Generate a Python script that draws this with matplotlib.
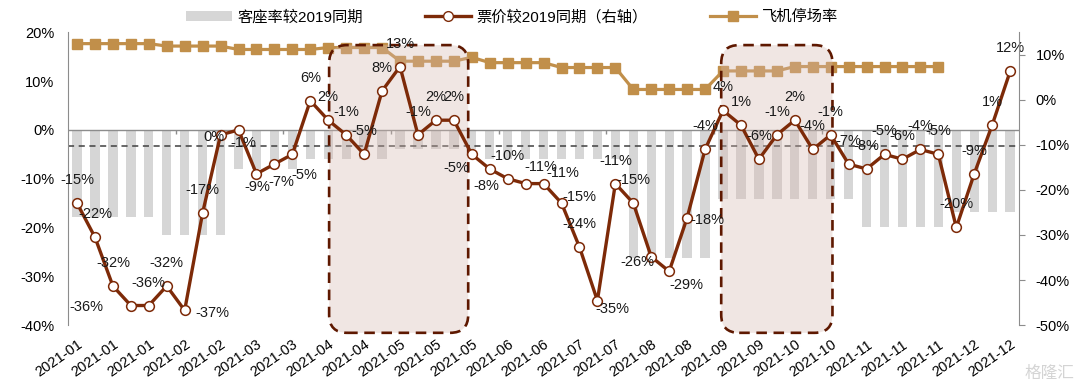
"""Ticket price / load factor / parked aircraft, weekly 2021"""
import numpy as np
import matplotlib.pyplot as plt
from matplotlib.patches import FancyBboxPatch, Patch
from matplotlib.lines import Line2D
from matplotlib.transforms import IdentityTransform

plt.rcParams['font.family'] = ['Liberation Sans', 'Noto Sans CJK SC']

# one label every second week
tick_labels = ['2021-01', '2021-01', '2021-01', '2021-02', '2021-02', '2021-03', '2021-03',
               '2021-04', '2021-04', '2021-05', '2021-05', '2021-05', '2021-06', '2021-06',
               '2021-07', '2021-07', '2021-08', '2021-08', '2021-09', '2021-09', '2021-10',
               '2021-10', '2021-11', '2021-11', '2021-11', '2021-12', '2021-12']

# 客座率较2019同期 (%)
load_factor = [-17.8, -17.8, -17.8, -17.8, -17.8, -21.5, -21.5, -21.5, -21.5, -8, -8, -8, -8,
               -6, -6, -6, -6, -6, -4, -4, -4, -4, -4, -6, -6, -6, -6, -6, -6, -6, -6,
               -26.2, -26.2, -26.2, -26.2, -26.2, -14.2, -14.2, -14.2, -14.2, -14.2, -14.2,
               -14.2, -14.2, -19.8, -19.8, -19.8, -19.8, -19.8, -16.8, -16.8, -16.8, -16.8]

# 票价较2019同期 (%)
price = [-15, -22, -32, -36, -36, -32, -37, -17, -1, 0,
         -9, -7, -5, 6, 2, -1, -5, 8, 13, -1,
         2, 2, -5, -8, -10, -11, -11, -15, -24, -35,
         -11, -15, -26, -29, -18, -4, 4, 1, -6, -1,
         2, -4, -1, -7, -8, -5, -6, -4, -5, -20,
         -9, 1, 12]

# 飞机停场率 (plotted on the same scale as the chart)
parking = [17.7, 17.7, 17.7, 17.7, 17.7, 17.2, 17.2, 17.2, 17.2, 16.5, 16.5, 16.5, 16.5, 16.5,
           16.9, 16.9, 16.9, 16.9, 14.1, 14.1, 14.1, 14.1, 14.9, 13.8, 13.8, 13.8, 13.8,
           12.8, 12.8, 12.8, 12.8, 8.3, 8.3, 8.3, 8.3, 8.3, 12.1, 12.1, 12.1, 12.1,
           13.0, 13.0, 13.0, 13.0, 13.0, 13.0, 13.0, 13.0, 13.0, np.nan, np.nan, np.nan, np.nan]

avg_line = -3.3

# label offsets in pixels (default: straight above the marker)
label_offsets = {3: (-44, -1), 6: (28, -3), 8: (23, -8), 9: (-25, -7), 10: (1, -13),
                 11: (7, -18), 12: (12, -21), 22: (-15, -14), 23: (-3, -17), 25: (15, 17),
                 26: (19, 11), 27: (18, 6), 29: (15, -8), 32: (-14, -5), 33: (17, -14),
                 34: (20, -2)}

# highlighted periods (week index range)
highlights = [(14.05, 21.8), (35.9, 42.1)]

bar_color = '#d6d6d6'
price_color = '#7d2a08'
park_color = '#c18f4a'
box_edge = '#5e1800'

fig = plt.figure(figsize=(10.8, 3.85), dpi=100)
ax = fig.add_axes([0.063, 0.1558, 0.8806, 0.76])
x = np.arange(len(price))

ax.bar(x, load_factor, width=0.52, color=bar_color, zorder=1)
ax.axhline(0, color='#8c8c8c', linewidth=1.0, zorder=2)
ax.axhline(avg_line, color='#404040', linestyle=(0, (4, 3)), linewidth=1.1, zorder=2)
ax.vlines(np.arange(5.5, len(price), 6), -0.9, 0, color='#8c8c8c', linewidth=1.0, zorder=2)

ax.plot(x, parking, color=park_color, linewidth=2.3, marker='s', markersize=7.5, zorder=3)
ax.plot(x, price, color=price_color, linewidth=2.4, marker='o', markersize=7,
        markerfacecolor='white', markeredgecolor=price_color, markeredgewidth=1.1, zorder=5)

for i, v in enumerate(price):
    dx, dy = label_offsets.get(i, (0, 23))
    ax.annotate(f'{v:.0f}%', (i, v), xytext=(dx, dy), textcoords='offset pixels',
                ha='center', va='center', fontsize=10.5, color='#1a1a1a', zorder=6)

ax.set_xlim(-0.5, len(price) - 0.5)
ax.set_ylim(-40, 20)
ax.set_yticks(np.arange(-40, 21, 10))
ax.set_yticklabels([f'{t}%' for t in range(-40, 21, 10)])
ax.tick_params(axis='y', length=0, pad=10, labelsize=10.5)
ax.set_xticks(np.arange(0, len(price), 2))
ax.set_xticklabels(tick_labels, rotation=35, ha='right', rotation_mode='anchor')
ax.tick_params(axis='x', length=0, pad=9, labelsize=10.5)
for s in ['top', 'right', 'bottom']:
    ax.spines[s].set_visible(False)
ax.spines['left'].set_color('#8c8c8c')

ax2 = ax.twinx()
ax2.set_ylim(-50, 15)
ax2.set_yticks(np.arange(-50, 11, 10))
ax2.set_yticklabels([f'{t}%' for t in range(-50, 11, 10)])
ax2.tick_params(axis='y', length=4, color='#8c8c8c', pad=8, labelsize=10.5)
for s in ['top', 'left', 'bottom']:
    ax2.spines[s].set_visible(False)
ax2.spines['right'].set_color('#8c8c8c')

# rounded dashed boxes, built in pixel space so the corners stay round
for x0, x1 in highlights:
    p0 = ax.transData.transform((x0, -41.6))
    p1 = ax.transData.transform((x1, 17.4))
    box = FancyBboxPatch((p0[0], p0[1]), p1[0] - p0[0], p1[1] - p0[1],
                         boxstyle='round,pad=0,rounding_size=18', transform=IdentityTransform(),
                         facecolor=(0.84, 0.72, 0.69, 0.35), edgecolor=box_edge,
                         linewidth=1.9, linestyle=(0, (4, 2.5)), clip_on=False, zorder=4)
    ax.add_patch(box)

handles = [Patch(facecolor=bar_color, edgecolor='none'),
           Line2D([], [], color=price_color, linewidth=2.4, marker='o', markersize=7,
                  markerfacecolor='white', markeredgecolor=price_color),
           Line2D([], [], color=park_color, linewidth=2.3, marker='s', markersize=7.5)]
labels = ['客座率较2019同期', '票价较2019同期（右轴）', '飞机停场率']
fig.legend(handles, labels, loc='center', bbox_to_anchor=(0.474, 0.956), ncol=3,
           frameon=False, fontsize=11, handlelength=3.0, handletextpad=0.35,
           columnspacing=4.1)

fig.text(0.995, 0.03, '格隆汇', ha='right', va='center', fontsize=12, color='#d4d4d4')

plt.savefig('out.png', dpi=100)
